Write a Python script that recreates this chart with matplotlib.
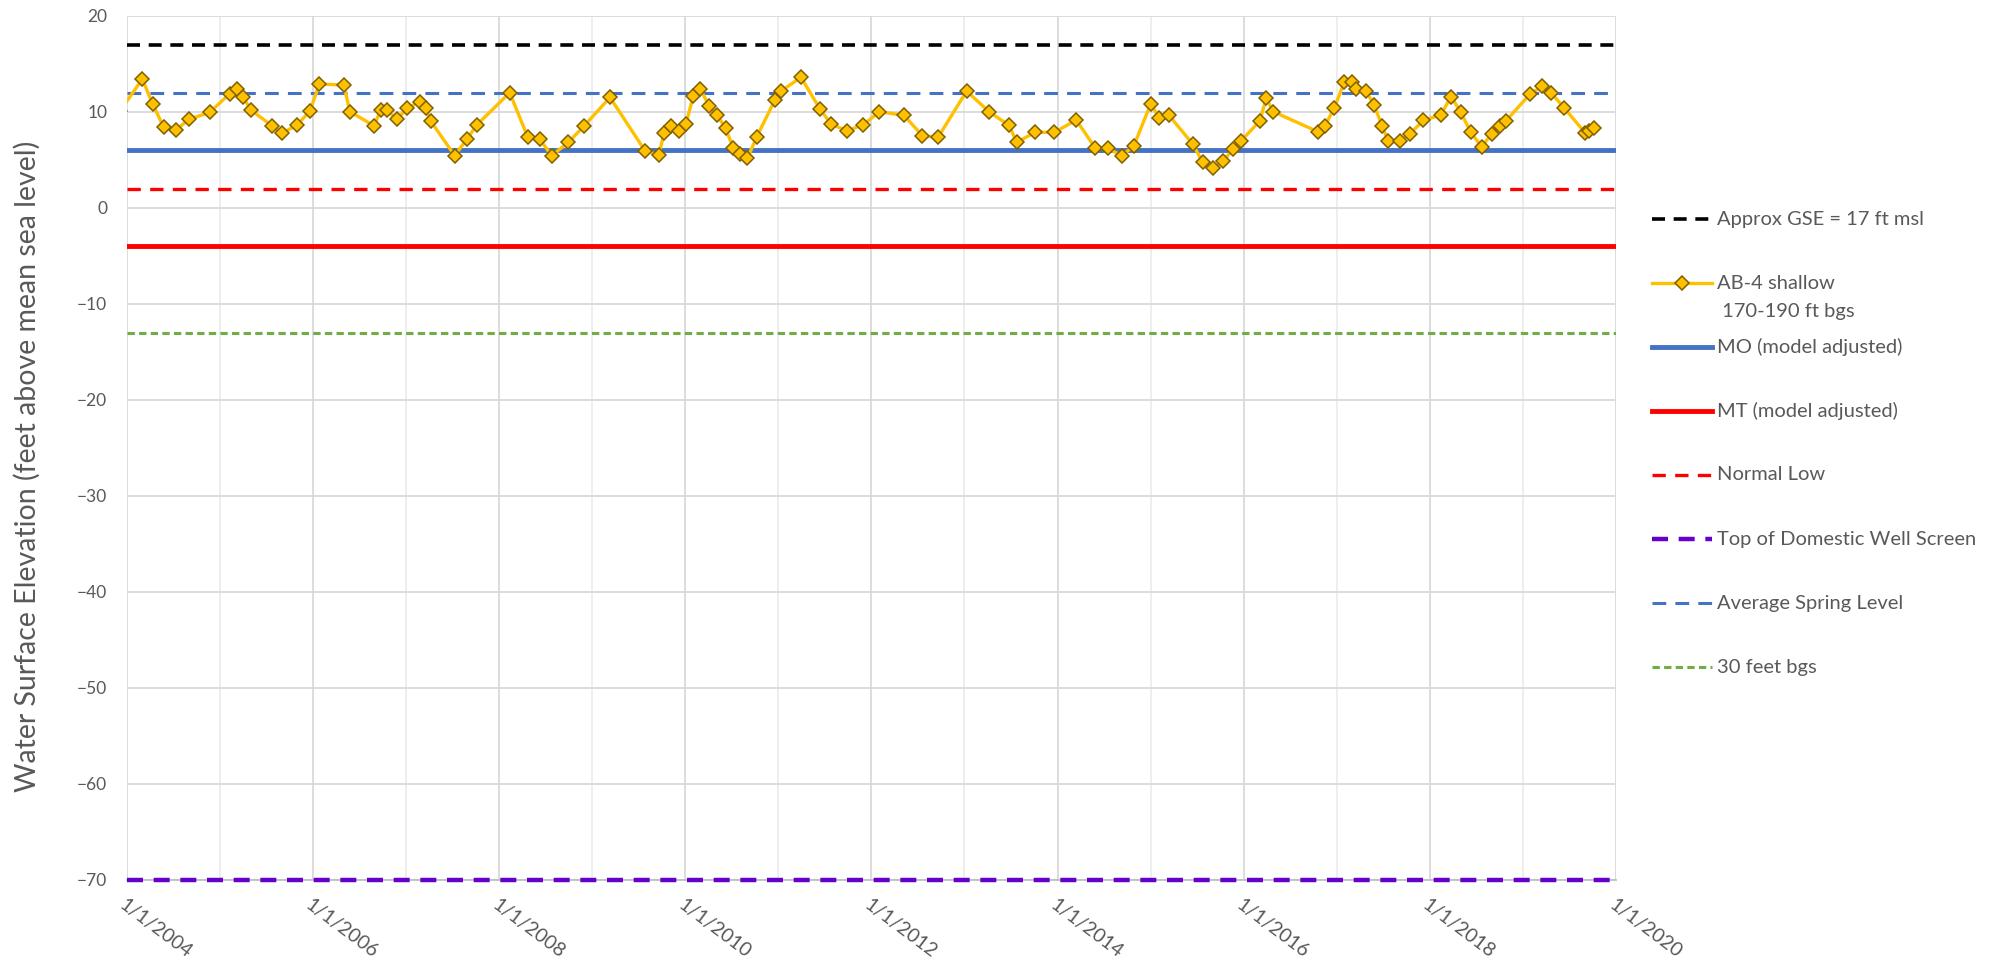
import numpy as np
import matplotlib
matplotlib.use("Agg")
import matplotlib.pyplot as plt
from matplotlib.lines import Line2D

plt.rcParams['font.family'] = ['Lato', 'DejaVu Sans']

# AB-4 shallow well readings (decimal year, ft msl)
years = [2003.93, 2004.168, 2004.279, 2004.397, 2004.526, 2004.666, 2004.891, 2005.107,
         2005.182, 2005.249, 2005.335, 2005.561, 2005.665, 2005.830, 2005.969, 2006.069,
         2006.331, 2006.399, 2006.657, 2006.729, 2006.793, 2006.907, 2007.008, 2007.151,
         2007.215, 2007.266, 2007.524, 2007.653, 2007.764, 2008.115, 2008.308, 2008.437,
         2008.566, 2008.745, 2008.916, 2009.192, 2009.568, 2009.719, 2009.772, 2009.848,
         2009.934, 2010.009, 2010.088, 2010.162, 2010.256, 2010.342, 2010.435, 2010.517,
         2010.589, 2010.668, 2010.768, 2010.965, 2011.029, 2011.244, 2011.448, 2011.567,
         2011.735, 2011.910, 2012.086, 2012.351, 2012.548, 2012.717, 2013.024, 2013.264,
         2013.479, 2013.562, 2013.758, 2013.966, 2014.202, 2014.403, 2014.539, 2014.690,
         2014.819, 2015.001, 2015.094, 2015.195, 2015.456, 2015.560, 2015.667, 2015.781,
         2015.886, 2015.971, 2016.172, 2016.243, 2016.319, 2016.796, 2016.874, 2016.974,
         2017.081, 2017.164, 2017.204, 2017.314, 2017.400, 2017.490, 2017.551, 2017.683,
         2017.784, 2017.930, 2018.117, 2018.228, 2018.332, 2018.439, 2018.558, 2018.665,
         2018.754, 2018.816, 2019.077, 2019.209, 2019.303, 2019.446, 2019.668, 2019.711,
         2019.768]
levels = [10.1, 13.40, 10.80, 8.40, 8.06, 9.20, 9.93, 11.88,
          12.33, 11.53, 10.17, 8.54, 7.74, 8.61, 10.07, 12.88,
          12.78, 10.00, 8.54, 10.17, 10.17, 9.20, 10.35, 11.04,
          10.35, 9.03, 5.42, 7.12, 8.65, 11.98, 7.36, 7.15,
          5.42, 6.81, 8.54, 11.49, 5.94, 5.49, 7.81, 8.47,
          7.99, 8.75, 11.67, 12.36, 10.63, 9.65, 8.26, 6.18,
          5.59, 5.14, 7.36, 11.25, 12.15, 13.58, 10.28, 8.72,
          8.02, 8.61, 10.00, 9.62, 7.50, 7.33, 12.15, 10.00,
          8.58, 6.81, 7.85, 7.85, 9.13, 6.25, 6.18, 5.42,
          6.42, 10.80, 9.38, 9.65, 6.60, 4.72, 4.10, 4.86,
          6.11, 6.94, 9.03, 11.39, 10.00, 7.92, 8.54, 10.42,
          13.06, 13.13, 12.33, 12.19, 10.69, 8.47, 6.98, 6.98,
          7.67, 9.10, 9.65, 11.56, 9.97, 7.85, 6.35, 7.71,
          8.51, 9.03, 11.84, 12.67, 11.98, 10.35, 7.81, 7.99,
          8.33]

# reference levels (ft msl)
gse = 17
avg_spring = 12
mo_level = 6
normal_low = 2
mt_level = -4
bgs_30 = -13
well_screen_top = -70

x_start, x_end = 2004, 2020
tick_years = list(range(2004, 2021, 2))
tick_labels = ["1/1/%d" % y for y in tick_years]
y_ticks = list(range(-70, 21, 10))

W, H = 2007, 964
fig = plt.figure(figsize=(W / 100, H / 100), dpi=100)
ax = fig.add_axes([126.7 / W, 1 - 879.7 / H, (1616 - 126.7) / W, (879.7 - 15.7) / H])

grey_txt = '#595959'

# reference lines
ax.axhline(gse, color='black', lw=2.6, ls=(0, (3.6, 2.4)), zorder=3)
ax.axhline(avg_spring, color='#4472C4', lw=2.2, ls=(0, (4.5, 3.0)), zorder=3)
ax.axhline(mo_level, color='#4472C4', lw=3.5, zorder=3)
ax.axhline(normal_low, color='#FF0000', lw=2.4, ls=(0, (4.0, 2.8)), zorder=3)
ax.axhline(mt_level, color='#FF0000', lw=3.5, zorder=3)
ax.axhline(bgs_30, color='#70AD47', lw=2.2, ls=(0, (2.4, 1.4)), zorder=3)
ax.axhline(well_screen_top, color='#6600CC', lw=3.2, ls=(0, (3.6, 2.4)), zorder=3, clip_on=False)

# well data
ax.plot(years, levels, color='#FFC000', lw=2.4, marker='D', ms=6.8,
        mfc='#FFC000', mec='#7F6000', mew=1.1, zorder=4)

ax.set_xlim(x_start, x_end)
ax.set_ylim(-70, 20)
ax.set_yticks(y_ticks)
ax.set_xticks(tick_years)
ax.set_xticks(range(2005, 2020, 2), minor=True)
ax.set_xticklabels(tick_labels, rotation=-37, ha='left', va='top', rotation_mode='anchor')

ax.grid(True, which='major', color='#D9D9D9', lw=1.3)
ax.grid(True, which='minor', axis='x', color='#EDEDED', lw=1.3)
ax.set_axisbelow(True)
for side in ['top', 'right', 'left']:
    ax.spines[side].set_visible(False)
ax.spines['bottom'].set_color('#BFBFBF')
ax.spines['bottom'].set_linewidth(1.3)

ax.tick_params(axis='both', which='both', length=0, colors=grey_txt)
ax.tick_params(axis='y', labelsize=12.5, pad=14)
ax.tick_params(axis='x', labelsize=14, pad=12)

ax.set_ylabel('Water Surface Elevation (feet above mean sea level)', fontsize=20.5,
              color=grey_txt)
ax.yaxis.set_label_coords(-0.058, 0.478)

# legend, drawn by hand in figure pixels
leg_items = [
    ('Approx GSE = 17 ft msl', dict(color='black', lw=2.6, ls=(0, (3.6, 2.4)))),
    ('AB-4 shallow', dict(color='#FFC000', lw=2.4)),
    ('MO (model adjusted)', dict(color='#4472C4', lw=3.5)),
    ('MT (model adjusted)', dict(color='#FF0000', lw=3.5)),
    ('Normal Low', dict(color='#FF0000', lw=2.4, ls=(0, (4.0, 2.8)))),
    ('Top of Domestic Well Screen', dict(color='#6600CC', lw=3.2, ls=(0, (3.6, 2.4)))),
    ('Average Spring Level', dict(color='#4472C4', lw=2.2, ls=(0, (4.5, 3.0)))),
    ('30 feet bgs', dict(color='#70AD47', lw=2.2, ls=(0, (2.4, 1.4)))),
]
for i, (label, style) in enumerate(leg_items):
    yp = 1 - (219 + 64 * i) / H
    fig.add_artist(Line2D([1652 / W, 1712 / W], [yp, yp], transform=fig.transFigure, **style))
    fig.text(1717 / W, yp, label, fontsize=14.5, color=grey_txt, va='center', ha='left')
    if i == 1:
        fig.add_artist(Line2D([1682 / W], [yp], transform=fig.transFigure, marker='D', ms=6.8,
                              mfc='#FFC000', mec='#7F6000', mew=1.1, ls='none'))
        fig.text(1717 / W, yp - 28 / H, ' 170-190 ft bgs', fontsize=14.5, color=grey_txt,
                 va='center', ha='left')

fig.savefig('out.png', dpi=100)
